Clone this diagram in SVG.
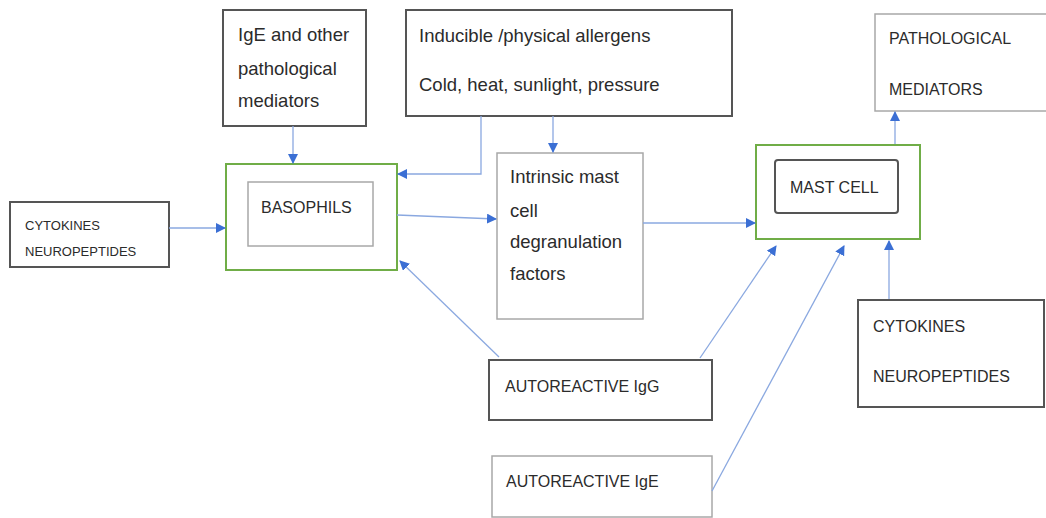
<svg xmlns="http://www.w3.org/2000/svg" width="1046" height="518" viewBox="0 0 1046 518">
<style>
text{font-family:"Liberation Sans",Arial,sans-serif;fill:#2b2b2b;font-size:16px}
.t13{font-size:13px}
.t18{font-size:18.5px}
.dk{fill:#fff;stroke:#555;stroke-width:2}
.lt{fill:#fff;stroke:#a8a8a8;stroke-width:1.5}
.gr{fill:#fff;stroke:#70ad47;stroke-width:2}
.c{fill:none;stroke:#8aa8e0;stroke-width:1.3}
</style>
<defs>
<marker id="a" viewBox="0 0 10 10" refX="9" refY="5" markerWidth="10" markerHeight="10" markerUnits="userSpaceOnUse" orient="auto">
<path d="M0,0 L10,5 L0,10 Z" fill="#3b6fd4"/>
</marker>
</defs>
<rect width="1046" height="518" fill="#fff"/>
<g id="ige-node"><rect class="dk" x="223" y="10" width="143" height="116"/>
<text class="t18" x="238" y="41">IgE and other</text><text class="t18" x="238" y="75">pathological</text><text class="t18" x="238" y="107">mediators</text></g>
<g id="inducible-node"><rect class="dk" x="406" y="10" width="326" height="106"/>
<text class="t18" x="419" y="42">Inducible /physical allergens</text><text class="t18" x="419" y="91">Cold, heat, sunlight, pressure</text></g>
<g id="pathological-node"><rect class="lt" x="875" y="14" width="175" height="97"/>
<text x="889" y="44" font-size="16.5">PATHOLOGICAL</text><text x="889" y="95" font-size="16.5">MEDIATORS</text></g>
<g id="basophils-node"><rect class="gr" x="226" y="164" width="171" height="106"/>
<rect class="lt" x="248" y="182" width="125" height="64"/>
<text x="261" y="213">BASOPHILS</text></g>
<g id="cytokines-left-node"><rect class="dk" x="10" y="202" width="159" height="65"/>
<text class="t13" x="25" y="230">CYTOKINES</text><text class="t13" x="25" y="256">NEUROPEPTIDES</text></g>
<g id="intrinsic-node"><rect class="lt" x="497" y="153" width="146" height="166"/>
<text class="t18" x="510" y="183">Intrinsic mast</text><text class="t18" x="510" y="217">cell</text><text class="t18" x="510" y="248">degranulation</text><text class="t18" x="510" y="280">factors</text></g>
<g id="mastcell-node"><rect class="gr" x="756" y="145" width="164" height="94"/>
<rect class="dk" x="775" y="160" width="123" height="53" rx="3"/>
<text x="790" y="193">MAST CELL</text></g>
<g id="cytokines-right-node"><rect class="dk" x="858" y="300" width="186" height="107"/>
<text x="873" y="332">CYTOKINES</text><text x="873" y="382">NEUROPEPTIDES</text></g>
<g id="autoigg-node"><rect class="dk" x="489" y="360" width="223" height="60"/>
<text x="505" y="392">AUTOREACTIVE IgG</text></g>
<g id="autoige-node"><rect class="lt" x="492" y="456" width="220" height="61"/>
<text x="506" y="487">AUTOREACTIVE IgE</text></g>
<g id="connectors">
<path class="c" d="M293,126 V163" marker-end="url(#a)"/>
<path class="c" d="M481,116 V174 H398" marker-end="url(#a)"/>
<path class="c" d="M553,116 V152" marker-end="url(#a)"/>
<path class="c" d="M397,215 L496,219" marker-end="url(#a)"/>
<path class="c" d="M643,223 H755" marker-end="url(#a)"/>
<path class="c" d="M169,228 H225" marker-end="url(#a)"/>
<path class="c" d="M499,357 L400,261" marker-end="url(#a)"/>
<path class="c" d="M700,358 L776,246" marker-end="url(#a)"/>
<path class="c" d="M712,491 L844,246" marker-end="url(#a)"/>
<path class="c" d="M889,299 V241" marker-end="url(#a)"/>
<path class="c" d="M895,144 V112" marker-end="url(#a)"/>
</g>
</svg>
